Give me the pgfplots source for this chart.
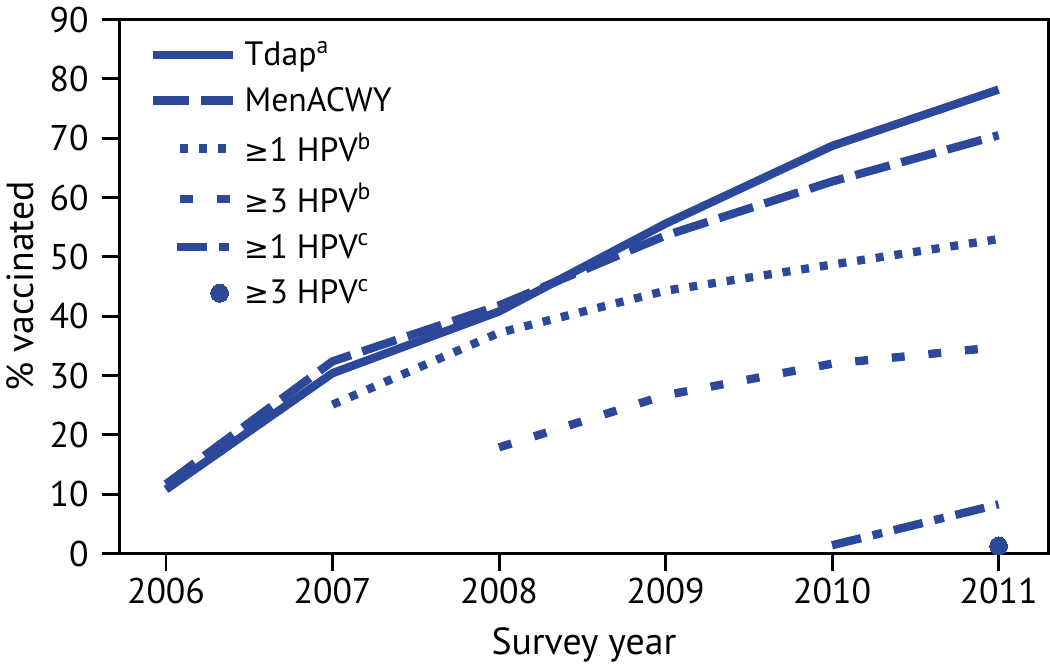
\documentclass[border=0pt]{standalone}
\usepackage{fontspec}
\setmainfont{PT Sans}
\newfontfamily\symfont{DejaVu Sans}
\newcommand{\gesym}{{\symfont\fontsize{15}{18}\selectfont ≥}}
\usepackage{pgfplots}
\pgfplotsset{compat=1.18}
\definecolor{cdcblue}{RGB}{44,72,155}
\pgfplotsset{
  fullleg/.style={legend image code/.code={\draw[##1] (0pt,0pt) -- (40pt,0pt);}},
  shortleg/.style={legend image code/.code={\draw[##1] (13.5pt,0pt) -- (40pt,0pt);}},
  dcleg/.style={legend image code/.code={\draw[##1] (12pt,0pt) -- (40pt,0pt);}},
  dotleg/.style={legend image code/.code={\draw[##1] plot coordinates {(33.5pt,0pt)};}},
}
\begin{document}
\begin{tikzpicture}
\begin{axis}[
  scale only axis, width=468pt, height=269pt,
  xmin=2005.72, xmax=2011.3, ymin=0, ymax=90,
  xtick={2006,2007,2008,2009,2010,2011},
  ytick={0,10,20,30,40,50,60,70,80,90},
  /pgf/number format/assume math mode=true,
  xticklabel style={/pgf/number format/1000 sep=},
  yticklabel style={xshift=-3pt},
  ticklabel style={font=\fontsize{18}{20}\selectfont},
  tick align=outside, tick pos=left, major tick length=9pt,
  axis line style={line width=1.5pt},
  major tick style={line width=1.5pt, black},
  xlabel={Survey year}, ylabel={\% vaccinated},
  label style={font=\fontsize{19}{22}\selectfont},
  xlabel style={yshift=-5pt},
  ylabel style={yshift=1pt},
  clip=false,
  every axis plot/.append style={cdcblue, line width=4.2pt, line cap=butt},
  legend style={draw=none, fill=none, at={(0.025,0.975)}, anchor=north west,
    font=\fontsize{17}{20}\selectfont, row sep=5.3pt,
    /tikz/every odd column/.append style={column sep=2pt}},
  legend cell align=left,
]
\addplot[mark=none, fullleg] coordinates {(2006,10.8)(2007,30.4)(2008,40.8)(2009,55.6)(2010,68.7)(2011,78.2)};
\addlegendentry{Tdap\textsuperscript{a}}
\addplot[mark=none, fullleg, dash pattern=on 18pt off 6pt] coordinates {(2006,11.7)(2007,32.4)(2008,41.8)(2009,53.6)(2010,62.7)(2011,70.5)};
\addlegendentry{MenACWY}
\addplot[mark=none, shortleg, dash pattern=on 4pt off 5.5pt] coordinates {(2007,25.1)(2008,37.2)(2009,44.3)(2010,48.7)(2011,53.0)};
\addlegendentry{\gesym1 HPV\textsuperscript{b}}
\addplot[mark=none, shortleg, dash pattern=on 6.5pt off 12pt] coordinates {(2008,17.9)(2009,26.7)(2010,32.0)(2011,34.8)};
\addlegendentry{\gesym3 HPV\textsuperscript{b}}
\addplot[mark=none, dcleg, dash pattern=on 15pt off 6pt on 5pt off 6pt] coordinates {(2010,1.4)(2011,8.3)};
\addlegendentry{\gesym1 HPV\textsuperscript{c}}
\addplot[only marks, dotleg, mark=*, mark size=4.5pt, mark options={fill=cdcblue, draw=cdcblue, line width=0pt}] coordinates {(2011,1.3)};
\addlegendentry{\gesym3 HPV\textsuperscript{c}}
\end{axis}
\end{tikzpicture}
\end{document}
